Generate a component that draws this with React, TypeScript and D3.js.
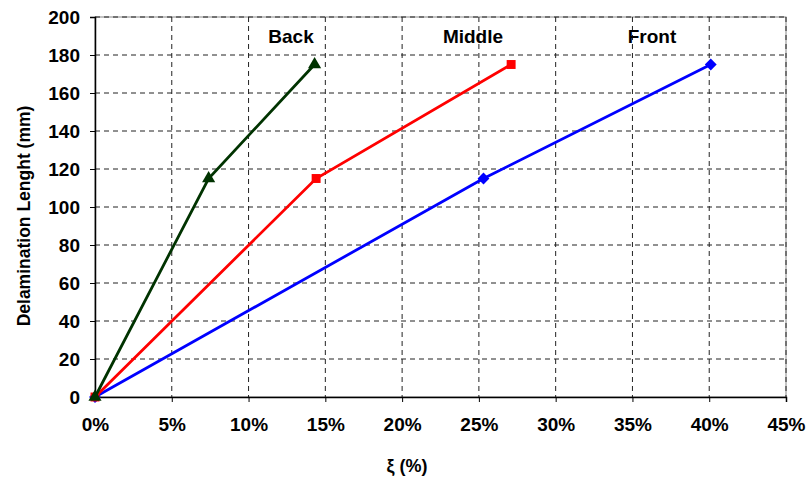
import React, { useRef, useEffect } from 'react';
import * as d3 from 'd3';

// strain values (%) and delamination lengths (mm)
const backX = [0, 7.4, 14.3];
const backY = [0, 115, 175];
const middleX = [0, 14.4, 27.1];
const middleY = [0, 115, 175];
const frontX = [0, 25.3, 40.1];
const frontY = [0, 115, 175];

const xTicks = [0, 5, 10, 15, 20, 25, 30, 35, 40, 45];
const yTicks = [0, 20, 40, 60, 80, 100, 120, 140, 160, 180, 200];

const seriesLabels = [
  { name: 'Back', x: 291 },
  { name: 'Middle', x: 473 },
  { name: 'Front', x: 652 },
];

const App: React.FC = () => {
  const svgRef = useRef<SVGSVGElement>(null);

  useEffect(() => {
    if (!svgRef.current) return;
    d3.select(svgRef.current).selectAll('*').remove();

    const width = 807;
    const height = 478;
    const margin = { top: 17, right: 21, bottom: 81, left: 95 };
    const w = width - margin.left - margin.right;
    const h = height - margin.top - margin.bottom;
    const font = 'Arial, "Liberation Sans", sans-serif';

    const svg = d3.select(svgRef.current)
      .attr('width', width)
      .attr('height', height);

    const g = svg.append('g')
      .attr('transform', `translate(${margin.left},${margin.top})`);

    const x = d3.scaleLinear().domain([0, 45]).range([0, w]);
    const y = d3.scaleLinear().domain([0, 200]).range([h, 0]);

    // grey frame
    g.append('rect')
      .attr('width', w)
      .attr('height', h)
      .attr('fill', 'none')
      .attr('stroke', '#888')
      .attr('stroke-width', 1);

    // dashed grid
    g.selectAll('.vgrid')
      .data(xTicks.slice(1))
      .enter()
      .append('line')
      .attr('x1', d => x(d))
      .attr('x2', d => x(d))
      .attr('y1', 0)
      .attr('y2', h)
      .attr('stroke', '#222')
      .attr('stroke-dasharray', '5,4');

    g.selectAll('.hgrid')
      .data(yTicks.slice(1))
      .enter()
      .append('line')
      .attr('x1', 0)
      .attr('x2', w)
      .attr('y1', d => y(d))
      .attr('y2', d => y(d))
      .attr('stroke', '#222')
      .attr('stroke-dasharray', '5,4');

    // axes
    const xAxis = g.append('g')
      .attr('transform', `translate(0,${h})`)
      .call(d3.axisBottom(x).tickValues(xTicks).tickSize(5).tickPadding(16).tickFormat(d => `${d}%`));
    const yAxis = g.append('g')
      .call(d3.axisLeft(y).tickValues(yTicks).tickSize(5).tickPadding(10));

    [xAxis, yAxis].forEach(ax => {
      ax.select('.domain').attr('stroke', '#000').attr('stroke-width', 1.5);
      ax.selectAll('.tick line').attr('stroke', '#000');
      ax.selectAll('text')
        .attr('fill', '#000')
        .attr('font-family', font)
        .attr('font-weight', 'bold')
        .attr('font-size', '19px');
    });

    const line = d3.line<[number, number]>()
      .x(d => x(d[0]))
      .y(d => y(d[1]));

    const series = [
      { xs: frontX, ys: frontY, color: '#0000ff', symbol: d3.symbolSquare, size: 70, rotate: 45 },
      { xs: middleX, ys: middleY, color: '#ff0000', symbol: d3.symbolSquare, size: 80, rotate: 0 },
      { xs: backX, ys: backY, color: '#003300', symbol: d3.symbolTriangle, size: 75, rotate: 0 },
    ];

    series.forEach(s => {
      const pts: [number, number][] = s.xs.map((v, i) => [v, s.ys[i]]);
      g.append('path')
        .datum(pts)
        .attr('fill', 'none')
        .attr('stroke', s.color)
        .attr('stroke-width', 2.8)
        .attr('d', line);
      g.selectAll(null)
        .data(pts)
        .enter()
        .append('path')
        .attr('transform', d => `translate(${x(d[0])},${y(d[1])}) rotate(${s.rotate})`)
        .attr('d', d3.symbol().type(s.symbol).size(s.size)())
        .attr('fill', s.color);
    });

    // series names
    g.selectAll('.series-label')
      .data(seriesLabels)
      .enter()
      .append('text')
      .attr('x', d => d.x - margin.left)
      .attr('y', 43 - margin.top)
      .attr('text-anchor', 'middle')
      .attr('font-family', font)
      .attr('font-weight', 'bold')
      .attr('font-size', '19px')
      .attr('fill', '#000')
      .text(d => d.name);

    // axis titles
    svg.append('text')
      .attr('x', 407)
      .attr('y', 472)
      .attr('text-anchor', 'middle')
      .attr('font-family', font)
      .attr('font-weight', 'bold')
      .attr('font-size', '18px')
      .text('ξ (%)');

    svg.append('text')
      .attr('transform', 'rotate(-90)')
      .attr('x', -216)
      .attr('y', 30)
      .attr('text-anchor', 'middle')
      .attr('font-family', font)
      .attr('font-weight', 'bold')
      .attr('font-size', '17.5px')
      .text('Delamination Lenght (mm)');
  }, []);

  return <svg ref={svgRef} style={{ position: 'absolute', left: 0, top: 0 }}></svg>;
};

export default App;
